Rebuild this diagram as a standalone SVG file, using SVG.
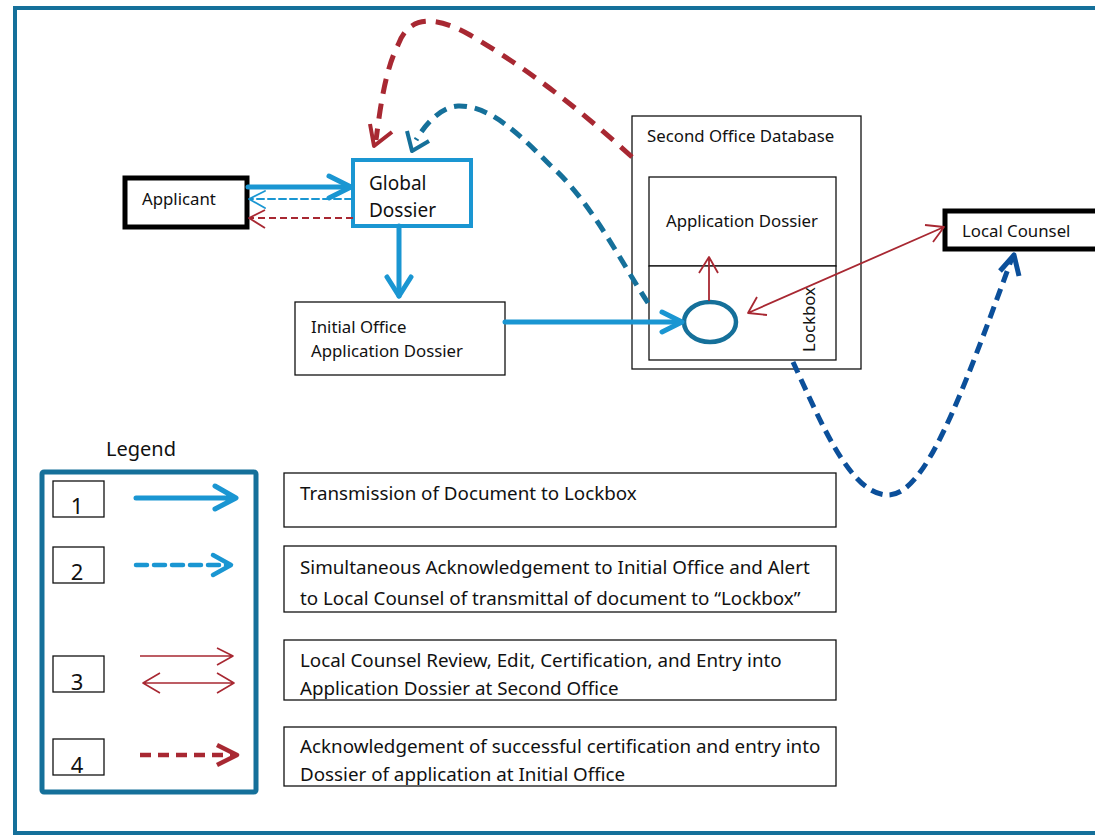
<svg xmlns="http://www.w3.org/2000/svg" width="1095" height="837" viewBox="0 0 1095 837">
<style>
text{font-family:"Noto Sans","Open Sans","DejaVu Sans",sans-serif;fill:#111}
.box{fill:#fff;stroke:#111;stroke-width:1.3}
.thick{fill:#fff;stroke:#000;stroke-width:5}
.blue{stroke:#1A96D2;fill:none;stroke-linecap:round;stroke-linejoin:round}
.teal{stroke:#15709A;fill:none;stroke-linejoin:round}
.red{stroke:#A82832;fill:none;stroke-linejoin:round}
.dblue{stroke:#0B4F9A;fill:none;stroke-linejoin:round}
.t16{font-size:16.8px}
.t18{font-size:18.8px}
.num{font-size:22px;text-anchor:middle}
</style>
<rect x="0" y="0" width="1095" height="837" fill="#fff"/>
<rect id="frame" x="15" y="8" width="1110" height="825" fill="none" stroke="#15709A" stroke-width="4"/>

<g id="applicant"><rect class="thick" x="125" y="178" width="122" height="49"/><text class="t16" x="142" y="205">Applicant</text></g>
<g id="global-dossier"><rect x="353" y="160" width="118" height="66" fill="#fff" stroke="#1A96D2" stroke-width="4"/><text x="369" y="190" font-size="19">Global</text><text x="369" y="217" font-size="19">Dossier</text></g>
<g id="initial-office"><rect class="box" x="295" y="302" width="210" height="73"/><text class="t16" x="311" y="333">Initial Office</text><text class="t16" x="311" y="357">Application Dossier</text></g>
<g id="second-office"><rect class="box" x="632" y="116" width="229" height="253"/><text class="t16" x="647" y="142">Second Office Database</text></g>
<g id="application-dossier"><rect class="box" x="649" y="177" width="187" height="89"/><text class="t16" x="742" y="227" text-anchor="middle">Application Dossier</text></g>
<g id="lockbox"><rect class="box" x="649" y="266" width="187" height="94"/><text class="t16" transform="translate(815,352) rotate(-90)">Lockbox</text><ellipse cx="710" cy="322" rx="26" ry="20" fill="none" stroke="#15709A" stroke-width="4.5"/></g>
<g id="local-counsel"><rect class="thick" x="945" y="211" width="160" height="38"/><text class="t16" x="962" y="237">Local Counsel</text></g>

<g id="connectors">
<path class="blue" stroke-width="5" d="M248 187H350"/>
<path class="blue" stroke-width="5" d="M329 176L351 187L329 198"/>
<path class="blue" stroke-width="2" stroke-dasharray="7 4" d="M352 199H250"/>
<path class="blue" stroke-width="1.8" d="M265 191L249 199L265 208"/>
<path class="red" stroke-width="2" stroke-dasharray="7 4" d="M353 218H250"/>
<path class="red" stroke-width="1.8" d="M265 210L249 218L265 228"/>
<path class="blue" stroke-width="5" d="M399 226V296"/>
<path class="blue" stroke-width="5" d="M387 277L399 296L411 277"/>
<path class="blue" stroke-width="5" d="M505 322H681"/>
<path class="blue" stroke-width="5" d="M662 312L682 322L662 332"/>
<path class="red" stroke-width="1.8" d="M709 301V257M699 273L709 257L718 273"/>
<path class="red" stroke-width="1.8" d="M748 313L944 227M767 315L748 313L757 297M925 225L944 227L933 242"/>
<path class="teal" stroke-width="5" stroke-dasharray="13 8" d="M648 303C620 260 590 200 550 165C520 135 490 105 458 106C440 107 425 125 416 140"/>
<path class="teal" stroke-width="4" d="M407 131L412 151L429 141"/>
<path class="red" stroke-width="5" stroke-dasharray="15 10" d="M632 157C580 110 530 70 470 35C440 18 410 12 398 45C385 70 380 110 376 140"/>
<path class="red" stroke-width="4" d="M370 124L374 146L392 132"/>
<path class="dblue" stroke-width="5" stroke-dasharray="12 7" d="M793 362C820 420 850 495 888 495C925 495 960 400 1012 258"/>
<path class="dblue" stroke-width="5" d="M1000 271L1014 255L1019 276"/>
</g>

<g id="legend">
<text x="106" y="456" font-size="20">Legend</text>
<rect x="42" y="472" width="214" height="320" rx="2" fill="none" stroke="#15709A" stroke-width="5"/>
<rect class="box" x="53" y="481" width="51" height="36"/><text class="num" x="77" y="514">1</text>
<rect class="box" x="53" y="547" width="51" height="36"/><text class="num" x="77" y="580">2</text>
<rect class="box" x="53" y="656" width="51" height="36"/><text class="num" x="77" y="690">3</text>
<rect class="box" x="53" y="739" width="51" height="36"/><text class="num" x="77" y="773">4</text>
<path class="blue" stroke-width="5" d="M136 498H235M215 486L236 498L215 509"/>
<path class="blue" stroke-width="4.5" stroke-dasharray="11 7" stroke-linecap="butt" d="M136 565H229"/>
<path class="blue" stroke-width="4.5" d="M213 555L231 565L213 575"/>
<path class="red" stroke-width="1.6" d="M140 656H233M217 648L233 656L217 665"/>
<path class="red" stroke-width="1.6" d="M143 683H234M160 673L143 683L160 693M217 673L234 683L217 693"/>
<path class="red" stroke-width="4.5" stroke-dasharray="11 7" d="M140 755H233"/>
<path class="red" stroke-width="4.5" d="M217 745L237 755L217 765"/>
</g>

<g id="legend-texts">
<rect class="box" x="284" y="473" width="552" height="54"/><text class="t18" x="300" y="500">Transmission of Document to Lockbox</text>
<rect class="box" x="284" y="546" width="552" height="66"/><text class="t18" x="300" y="574">Simultaneous Acknowledgement to Initial Office and Alert</text><text class="t18" x="300" y="605">to Local Counsel of transmittal of document to “Lockbox”</text>
<rect class="box" x="284" y="640" width="552" height="60"/><text class="t18" x="300" y="667">Local Counsel Review, Edit, Certification, and Entry into</text><text class="t18" x="300" y="695">Application Dossier at Second Office</text>
<rect class="box" x="284" y="727" width="552" height="59"/><text class="t18" x="300" y="753">Acknowledgement of successful certification and entry into</text><text class="t18" x="300" y="781">Dossier of application at Initial Office</text>
</g>
</svg>
